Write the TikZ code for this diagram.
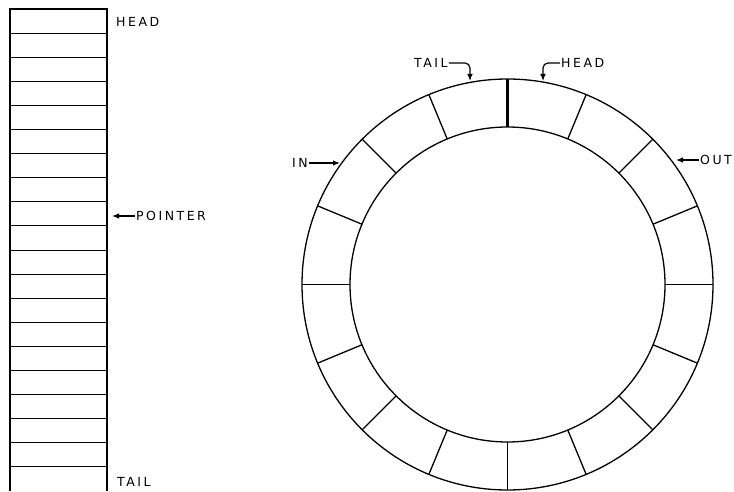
\documentclass[tikz,border=0pt]{standalone}
\usepackage{fontspec}
\newfontfamily\lblfont[LetterSpace=20]{DejaVu Sans}
\usetikzlibrary{arrows.meta}
\begin{document}
\begin{tikzpicture}[x=1pt, y=1pt,
        lbl/.style={font=\lblfont\fontsize{12.5}{12.5}\selectfont, inner sep=1pt},
        arr/.style={line width=1.2pt, -{Latex[length=7pt,width=5.5pt]}}]
    \useasboundingbox (0,0) rectangle (734,491);

    % linear queue
    \draw[line width=1.2pt] (10,0) -- (10,482) -- (107,482) -- (107,0);
    \foreach \k in {1,...,19} {
        \draw[line width=1pt] (10,482-24.1*\k) -- (107,482-24.1*\k);
    }
    \node[lbl, anchor=west] (headq) at (115,469) {HEAD};
    \node[lbl, anchor=west] (tailq) at (116,9) {TAIL};
    \node[lbl, anchor=west] (pointer) at (135,275) {POINTER};
    \coordinate (ptip) at (112,275);
    \draw[arr] (pointer.west) -- (ptip);

    % circular queue
    \coordinate (C) at (507.5,206.5);
    \begin{scope}[shift={(C)}, line width=1.3pt]
        \draw (0,0) circle (205.5);
        \draw (0,0) circle (157.5);
        \foreach \a in {0,22.5,45,67.5,112.5,135,...,337.5} {
            \draw (\a:157.5) -- (\a:205.5);
        }
        \draw[line width=3.5pt] (90:157.5) -- (90:205.5);
    \end{scope}

    \node[lbl, anchor=west] (tailr) at (413,428) {TAIL};
    \node[lbl, anchor=west] (headr) at (560,428) {HEAD};
    \node[lbl, anchor=west] (in) at (291,328) {IN};
    \node[lbl, anchor=west] (out) at (699,331) {OUT};
    \coordinate (tailtip) at (470,410);
    \coordinate (headtip) at (543,410);
    \coordinate (intip) at (340,328);
    \coordinate (outtip) at (676,331);
    \draw[arr, rounded corners=5pt] (tailr.east) -| (tailtip);
    \draw[arr, rounded corners=5pt] (headr.west) -| (headtip);
    \draw[arr] (in.east) -- (intip);
    \draw[arr] (out.west) -- (outtip);
\end{tikzpicture}
\end{document}
